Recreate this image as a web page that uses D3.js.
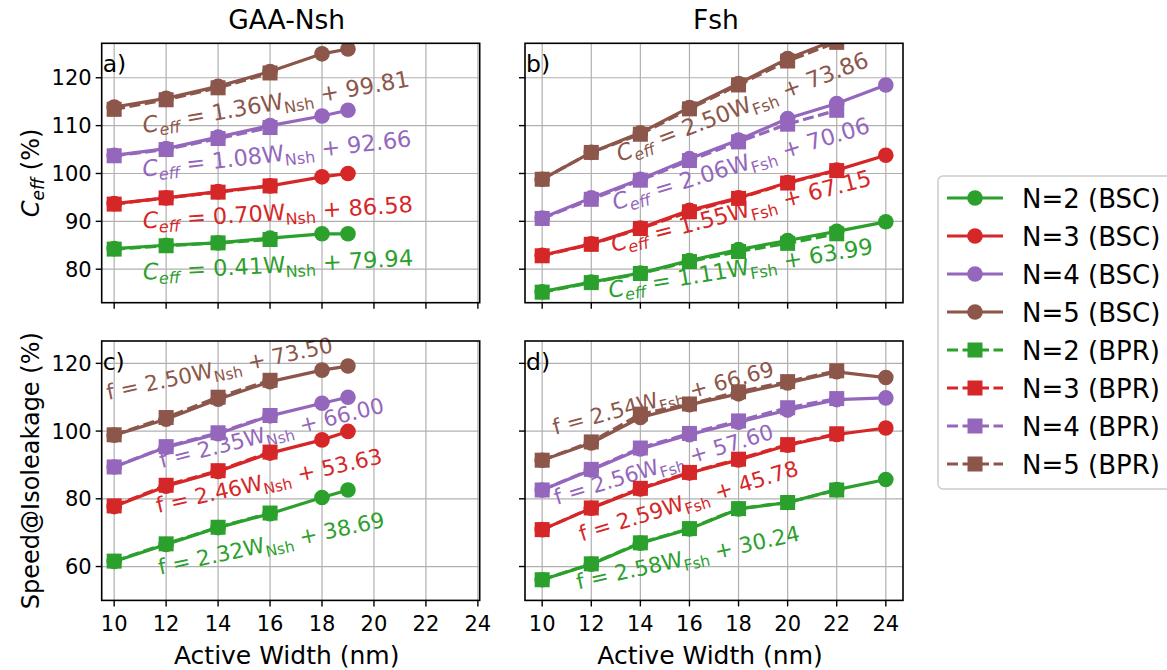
<!DOCTYPE html>
<html>
<head>
<meta charset="utf-8">
<script src="https://cdn.jsdelivr.net/npm/d3@7"></script>
<style>
body { margin: 0; background: white; }
text { font-family: "DejaVu Sans", sans-serif; }
</style>
</head>
<body>
<div id="graphicContainer"></div>
<script>
var seriesNames = ["N=2", "N=3", "N=4", "N=5"];
var seriesColours = ["#2ca02c", "#d62728", "#9467bd", "#8c564b"];

var widthNsh = [10, 12, 14, 16, 18, 19];
var widthNshBpr = [10, 12, 14, 16];
var widthFsh = [10, 12, 14, 16, 18, 20, 22, 24];
var widthFshBpr = [10, 12, 14, 16, 18, 20, 22];
var xTicks = [10, 12, 14, 16, 18, 20, 22, 24];
var ceffTicks = [80, 90, 100, 110, 120];
var speedTicks = [60, 80, 100, 120];

// C_eff (%), one row per N (2..5)
var ceffNshBsc = [
  [84.3, 85.0, 85.5, 86.5, 87.4, 87.4],
  [93.7, 94.9, 96.2, 97.4, 99.3, 100.0],
  [103.8, 105.2, 107.6, 110.0, 112.0, 113.2],
  [113.9, 115.7, 118.2, 121.3, 125.0, 126.0]
];
var ceffNshBpr = [
  [84.2, 84.9, 85.5, 86.2],
  [93.6, 94.9, 96.1, 97.4],
  [103.7, 105.0, 107.3, 109.6],
  [113.4, 115.4, 117.9, 121.0]
];
var ceffFshBsc = [
  [75.3, 77.3, 79.2, 81.8, 84.1, 86.0, 87.9, 89.9],
  [82.9, 85.3, 88.6, 92.3, 94.9, 98.1, 100.7, 103.8],
  [90.7, 94.9, 98.8, 103.1, 107.0, 111.5, 114.6, 118.5],
  [98.8, 104.4, 108.5, 113.8, 118.8, 124.0, 128.0, 133.0]
];
var ceffFshBpr = [
  [75.2, 77.2, 79.1, 81.6, 83.7, 85.4, 87.4],
  [82.8, 85.2, 88.5, 92.0, 94.8, 98.0, 100.6],
  [90.6, 94.6, 98.6, 102.7, 106.6, 110.3, 113.2],
  [98.8, 104.4, 108.2, 113.5, 118.5, 123.5, 127.4]
];

// Speed@Isoleakage (%)
var speedNshBsc = [
  [61.5, 66.5, 71.5, 75.6, 80.4, 82.6],
  [77.7, 83.7, 88.1, 93.5, 97.4, 99.9],
  [89.4, 95.2, 99.2, 104.5, 108.2, 110.0],
  [98.8, 103.5, 109.4, 114.6, 118.0, 119.2]
];
var speedNshBpr = [
  [61.6, 66.7, 71.6, 75.8],
  [77.9, 84.0, 88.3, 93.8],
  [89.4, 95.4, 99.5, 104.6],
  [98.9, 104.0, 110.0, 115.0]
];
var speedFshBsc = [
  [56.1, 60.7, 66.9, 71.1, 77.0, 78.9, 82.7, 85.7],
  [70.9, 77.2, 82.9, 87.6, 91.5, 95.8, 99.0, 100.9],
  [82.6, 88.5, 94.7, 98.9, 102.6, 106.2, 109.3, 109.8],
  [91.4, 96.5, 104.0, 107.8, 111.0, 114.2, 117.5, 115.8]
];
var speedFshBpr = [
  [56.1, 60.8, 67.0, 71.2, 77.1, 78.9, 82.6],
  [70.9, 77.3, 83.1, 87.8, 91.7, 96.0, 99.2],
  [82.6, 88.7, 95.0, 99.3, 103.0, 106.9, 109.6],
  [91.4, 96.8, 105.0, 108.0, 111.6, 114.6, 117.8]
];

// linear fits
var ceffNshSlope = [0.41, 0.70, 1.08, 1.36];
var ceffNshIntercept = [79.94, 86.58, 92.66, 99.81];
var ceffFshSlope = [1.11, 1.55, 2.06, 2.50];
var ceffFshIntercept = [63.99, 67.15, 70.06, 73.86];
var speedNshSlope = [2.32, 2.46, 2.35, 2.50];
var speedNshIntercept = [38.69, 53.63, 66.00, 73.50];
var speedFshSlope = [2.58, 2.59, 2.56, 2.54];
var speedFshIntercept = [30.24, 45.78, 57.60, 66.69];

// where the fit labels sit: [x, y] in data units and rotation
var ceffNshLabelAt = [[11.12, 77.8, -3], [11.12, 88.5, -3.5], [11.12, 99.3, -6.5], [11.15, 108.4, -10]];
var ceffFshLabelAt = [[12.75, 74.0, -9.5], [12.9, 83.6, -14.5], [12.97, 92.3, -17], [13.17, 102.4, -21]];
var speedNshLabelAt = [[11.76, 57.6, -12], [11.69, 75.8, -12.5], [11.82, 89.1, -14], [9.77, 109.2, -12]];
var speedFshLabelAt = [[11.47, 53.2, -12.5], [11.61, 67.4, -17], [10.59, 78.2, -17], [10.52, 98.9, -15]];

var W = 1167, H = 670;
var panelW = 378, panelH = 259.4;

var svg = d3.select("#graphicContainer").append("svg")
    .attr("width", W)
    .attr("height", H);

function drawPanel(p) {
    var x = d3.scaleLinear().domain(p.xDomain).range([0, panelW]);
    var y = d3.scaleLinear().domain(p.yDomain).range([panelH, 0]);

    var g = svg.append("g").attr("transform", "translate(" + p.left + "," + p.top + ")");

    g.append("clipPath").attr("id", "clip" + p.id)
        .append("rect").attr("width", panelW).attr("height", panelH);

    // grid
    g.append("g").selectAll("line").data(xTicks).enter().append("line")
        .attr("x1", d => x(d)).attr("x2", d => x(d))
        .attr("y1", 0).attr("y2", panelH)
        .attr("stroke", "#b0b0b0").attr("stroke-width", 1.2);
    g.append("g").selectAll("line").data(p.yTicks).enter().append("line")
        .attr("x1", 0).attr("x2", panelW)
        .attr("y1", d => y(d)).attr("y2", d => y(d))
        .attr("stroke", "#b0b0b0").attr("stroke-width", 1.2);

    // fit labels (sit under the lines)
    var big = p.yName == "ceff" ? 22.5 : 21.5;
    p.labelAt.forEach(function(a, i) {
        var t = g.append("text")
            .attr("transform", "translate(" + x(a[0]) + "," + y(a[1]) + ") rotate(" + a[2] + ")")
            .attr("fill", seriesColours[i])
            .style("font-size", big + "px");
        if (p.yName == "ceff") {
            t.append("tspan").style("font-style", "italic").text("C");
            t.append("tspan").style("font-style", "italic").style("font-size", (big * 0.71) + "px").attr("dy", 5).text("eff");
            t.append("tspan").attr("dy", -5).text(" = " + p.slope[i].toFixed(2) + "W");
        } else {
            t.append("tspan").text("f = " + p.slope[i].toFixed(2) + "W");
        }
        t.append("tspan").style("font-size", (big * 0.71) + "px").attr("dy", 5).text(p.sub);
        t.append("tspan").attr("dy", -5).text(" + " + p.intercept[i].toFixed(2));
    });

    var plot = g.append("g").attr("clip-path", "url(#clip" + p.id + ")");
    var line = d3.line().x(d => x(d[0])).y(d => y(d[1]));

    function series(xs, rows, dashed) {
        rows.forEach(function(vals, i) {
            var pts = xs.map((xv, j) => [xv, vals[j]]);
            plot.append("path")
                .datum(pts)
                .attr("d", line)
                .attr("fill", "none")
                .attr("stroke", seriesColours[i])
                .attr("stroke-width", 3.2)
                .attr("stroke-dasharray", dashed ? "11,4.5" : null);
            if (dashed) {
                plot.append("g").selectAll("rect").data(pts).enter().append("rect")
                    .attr("x", d => x(d[0]) - 7.5).attr("y", d => y(d[1]) - 7.5)
                    .attr("width", 15).attr("height", 15)
                    .attr("fill", seriesColours[i]);
            } else {
                plot.append("g").selectAll("circle").data(pts).enter().append("circle")
                    .attr("cx", d => x(d[0])).attr("cy", d => y(d[1]))
                    .attr("r", 7.8)
                    .attr("fill", seriesColours[i]);
            }
        });
    }
    series(p.xBsc, p.bsc, false);
    series(p.xBpr, p.bpr, true);

    // frame
    g.append("rect").attr("width", panelW).attr("height", panelH)
        .attr("fill", "none").attr("stroke", "black").attr("stroke-width", 1.6);

    // ticks
    g.append("g").selectAll("line").data(xTicks).enter().append("line")
        .attr("x1", d => x(d)).attr("x2", d => x(d))
        .attr("y1", panelH).attr("y2", panelH + 6)
        .attr("stroke", "black").attr("stroke-width", 1.4);
    g.append("g").selectAll("line").data(p.yTicks).enter().append("line")
        .attr("x1", -6).attr("x2", 0)
        .attr("y1", d => y(d)).attr("y2", d => y(d))
        .attr("stroke", "black").attr("stroke-width", 1.4);

    if (p.showX) {
        g.append("g").selectAll("text").data(xTicks).enter().append("text")
            .attr("x", d => x(d)).attr("y", panelH + 31)
            .attr("text-anchor", "middle")
            .style("font-size", "21px")
            .text(d => d);
        g.append("text")
            .attr("x", panelW / 2 - 4).attr("y", panelH + 64)
            .attr("text-anchor", "middle")
            .style("font-size", "25px")
            .text("Active Width (nm)");
    }
    if (p.showY) {
        g.append("g").selectAll("text").data(p.yTicks).enter().append("text")
            .attr("x", -10).attr("y", d => y(d) + 7.5)
            .attr("text-anchor", "end")
            .style("font-size", "21px")
            .text(d => d);
    }

    g.append("text")
        .attr("x", 1).attr("y", 29)
        .style("font-size", "23.5px")
        .text(p.id + ")");

    return g;
}

var panels = [
    {id: "a", left: 101.7, top: 43.3, xDomain: [9.52, 24.07], yDomain: [73, 127.2], yTicks: ceffTicks, yName: "ceff",
     xBsc: widthNsh, xBpr: widthNshBpr, bsc: ceffNshBsc, bpr: ceffNshBpr,
     slope: ceffNshSlope, intercept: ceffNshIntercept, labelAt: ceffNshLabelAt, sub: "Nsh",
     showX: false, showY: true},
    {id: "b", left: 525, top: 43.3, xDomain: [9.3, 24.7], yDomain: [73, 127.2], yTicks: ceffTicks, yName: "ceff",
     xBsc: widthFsh, xBpr: widthFshBpr, bsc: ceffFshBsc, bpr: ceffFshBpr,
     slope: ceffFshSlope, intercept: ceffFshIntercept, labelAt: ceffFshLabelAt, sub: "Fsh",
     showX: false, showY: false},
    {id: "c", left: 101.7, top: 341, xDomain: [9.52, 24.07], yDomain: [50, 126.6], yTicks: speedTicks, yName: "speed",
     xBsc: widthNsh, xBpr: widthNshBpr, bsc: speedNshBsc, bpr: speedNshBpr,
     slope: speedNshSlope, intercept: speedNshIntercept, labelAt: speedNshLabelAt, sub: "Nsh",
     showX: true, showY: true},
    {id: "d", left: 525, top: 341, xDomain: [9.3, 24.7], yDomain: [50, 126.6], yTicks: speedTicks, yName: "speed",
     xBsc: widthFsh, xBpr: widthFshBpr, bsc: speedFshBsc, bpr: speedFshBpr,
     slope: speedFshSlope, intercept: speedFshIntercept, labelAt: speedFshLabelAt, sub: "Fsh",
     showX: true, showY: false}
];

panels.forEach(drawPanel);

// column titles
svg.append("text").attr("x", 101.7 + panelW / 2 - 4).attr("y", 29)
    .attr("text-anchor", "middle").style("font-size", "26.5px").text("GAA-Nsh");
svg.append("text").attr("x", 525 + panelW / 2 + 2).attr("y", 29)
    .attr("text-anchor", "middle").style("font-size", "26.5px").text("Fsh");

// y labels
var yl1 = svg.append("text")
    .attr("transform", "translate(39," + (43.3 + panelH / 2) + ") rotate(-90)")
    .attr("text-anchor", "middle")
    .style("font-size", "24px");
yl1.append("tspan").style("font-style", "italic").text("C");
yl1.append("tspan").style("font-style", "italic").style("font-size", "17px").attr("dy", 5).text("eff");
yl1.append("tspan").attr("dy", -5).text(" (%)");

svg.append("text")
    .attr("transform", "translate(39," + (341 + panelH / 2) + ") rotate(-90)")
    .attr("text-anchor", "middle")
    .style("font-size", "24px")
    .text("Speed@Isoleakage (%)");

// legend
var legend = svg.append("g").attr("transform", "translate(938,176)");
legend.append("rect")
    .attr("width", 250).attr("height", 313).attr("rx", 5)
    .attr("fill", "white").attr("stroke", "#cccccc").attr("stroke-width", 1.5);

var legendItems = [];
["BSC", "BPR"].forEach(function(kind) {
    seriesNames.forEach(function(n, i) {
        legendItems.push({label: n + " (" + kind + ")", colour: seriesColours[i], dashed: kind == "BPR"});
    });
});

legendItems.forEach(function(d, i) {
    var row = legend.append("g").attr("transform", "translate(0," + (22 + i * 38) + ")");
    row.append("line")
        .attr("x1", 9).attr("x2", 65).attr("y1", 0).attr("y2", 0)
        .attr("stroke", d.colour).attr("stroke-width", 3.2)
        .attr("stroke-dasharray", d.dashed ? "11,4.5" : null);
    if (d.dashed) {
        row.append("rect").attr("x", 29.5).attr("y", -7.5).attr("width", 15).attr("height", 15)
            .attr("fill", d.colour);
    } else {
        row.append("circle").attr("cx", 37).attr("cy", 0).attr("r", 7.8).attr("fill", d.colour);
    }
    row.append("text")
        .attr("x", 84).attr("y", 9.5)
        .style("font-size", "26px")
        .text(d.label);
});
</script>
</body>
</html>
